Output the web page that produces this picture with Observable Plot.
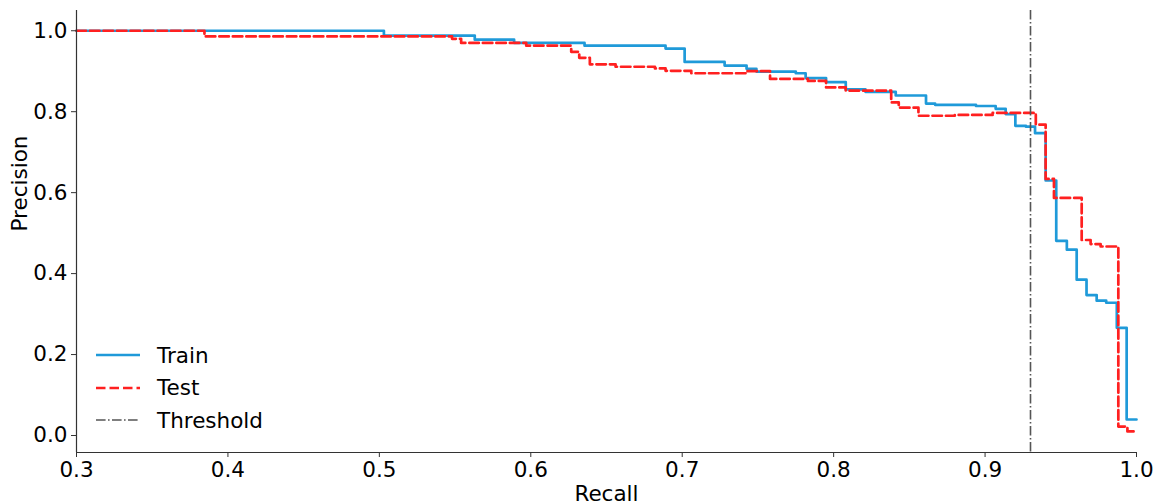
<!DOCTYPE html>
<html>
<head>
<meta charset="utf-8">
<script src="https://cdn.jsdelivr.net/npm/d3@7"></script>
<script src="https://cdn.jsdelivr.net/npm/@observablehq/plot@0.6"></script>
<style>
  html, body { margin: 0; padding: 0; background: #fff; }
  #wrap { position: relative; width: 1156px; height: 504px; font-family: "DejaVu Sans", sans-serif; }
  #legend { position: absolute; left: 96px; top: 339px; font-size: 21.5px; color: #000; }
  .row { display: flex; align-items: center; height: 32.5px; }
  .row svg { width: 46px; height: 10px; margin-right: 15px; }
</style>
</head>
<body>
<div id="wrap"><div id="chart"></div><div id="legend"></div></div>
<script>
// ---- data ----
const trainRecall = [0.3, 0.503, 0.563, 0.589, 0.6355, 0.689, 0.7016, 0.728, 0.7425, 0.749, 0.775, 0.7815, 0.795, 0.808, 0.821, 0.841, 0.861, 0.867, 0.894, 0.907, 0.9136, 0.920, 0.927, 0.933, 0.940, 0.947, 0.954, 0.9605, 0.967, 0.9737, 0.980, 0.987, 0.9935, 1.0];
const trainPrecision = [1.0, 0.988, 0.978, 0.970, 0.963, 0.956, 0.923, 0.914, 0.906, 0.899, 0.895, 0.883, 0.873, 0.855, 0.849, 0.840, 0.820, 0.817, 0.814, 0.807, 0.794, 0.765, 0.763, 0.747, 0.630, 0.481, 0.459, 0.385, 0.347, 0.333, 0.328, 0.266, 0.0395, 0.0395];

const testRecall = [0.3, 0.3845, 0.548, 0.554, 0.597, 0.6267, 0.632, 0.639, 0.656, 0.682, 0.689, 0.706, 0.742, 0.758, 0.783, 0.795, 0.808, 0.838, 0.843, 0.856, 0.880, 0.905, 0.9335, 0.940, 0.9455, 0.9638, 0.9697, 0.9763, 0.988, 0.994, 1.0];
const testPrecision = [1.0, 0.986, 0.980, 0.970, 0.963, 0.948, 0.933, 0.917, 0.911, 0.907, 0.901, 0.895, 0.900, 0.881, 0.876, 0.860, 0.852, 0.823, 0.810, 0.790, 0.792, 0.797, 0.768, 0.634, 0.587, 0.483, 0.473, 0.467, 0.022, 0.010, 0.010];

const threshold = [0.93];

const xTicks = [0.3, 0.4, 0.5, 0.6, 0.7, 0.8, 0.9, 1.0];
const yTicks = [0.0, 0.2, 0.4, 0.6, 0.8, 1.0];
const xDomain = [0.3, 1.0];
const yDomain = [-0.042, 1.05];

const seriesNames = ["Train", "Test", "Threshold"];
const colors = { Train: "#1f9ad9", Test: "#ff2020", Threshold: "#555555" };

// ---- build tables ----
const train = trainRecall.map((r, i) => ({ recall: r, precision: trainPrecision[i] }));
const test = testRecall.map((r, i) => ({ recall: r, precision: testPrecision[i] }));

const FS = 21.5;
const chart = Plot.plot({
  width: 1156,
  height: 504,
  marginLeft: 76,
  marginRight: 20,
  marginTop: 10,
  marginBottom: 52,
  style: { fontFamily: "DejaVu Sans, sans-serif", fontSize: FS + "px", color: "#000", background: "#fff" },
  x: { domain: xDomain },
  y: { domain: yDomain },
  marks: [
    Plot.line(train, { x: "recall", y: "precision", curve: "step-after", stroke: colors.Train, strokeWidth: 2.7 }),
    Plot.line(test, { x: "recall", y: "precision", curve: "step-after", stroke: colors.Test, strokeWidth: 2.7, strokeDasharray: "9.5,4" }),
    Plot.ruleX(threshold, { stroke: colors.Threshold, strokeWidth: 1.6, strokeDasharray: "9.6,2.4,1.6,2.4" }),
    Plot.ruleX([xDomain[0]], { stroke: "#333", strokeWidth: 1.2 }),
    Plot.ruleY([yDomain[0]], { stroke: "#333", strokeWidth: 1.2 }),
    Plot.axisX({ ticks: xTicks, tickFormat: d3.format(".1f"), tickSize: 5, tickPadding: 4, stroke: "#333", fill: "#000", fontSize: FS, label: null }),
    Plot.axisY({ ticks: yTicks, tickFormat: d3.format(".1f"), tickSize: 5, tickPadding: 4, stroke: "#333", fill: "#000", fontSize: FS, label: null }),
    Plot.text(["Recall"], { frameAnchor: "bottom", dy: 48, fontSize: FS, fill: "#000" }),
    Plot.text(["Precision"], { frameAnchor: "left", dx: -56, rotate: -90, fontSize: FS, fill: "#000" })
  ]
});
document.getElementById("chart").appendChild(chart);

// ---- legend (HTML overlay inside the axes area) ----
const dashes = { Train: null, Test: "9.5,4", Threshold: "9.6,2.4,1.6,2.4" };
const widths = { Train: 2.7, Test: 2.7, Threshold: 1.6 };
const legend = document.getElementById("legend");
for (const name of seriesNames) {
  const row = document.createElement("div");
  row.className = "row";
  const svgNS = "http://www.w3.org/2000/svg";
  const s = document.createElementNS(svgNS, "svg");
  const l = document.createElementNS(svgNS, "line");
  l.setAttribute("x1", 0); l.setAttribute("x2", 44); l.setAttribute("y1", 5); l.setAttribute("y2", 5);
  l.setAttribute("stroke", colors[name]);
  l.setAttribute("stroke-width", widths[name]);
  if (dashes[name]) l.setAttribute("stroke-dasharray", dashes[name]);
  s.appendChild(l);
  const t = document.createElement("span");
  t.textContent = name;
  row.appendChild(s); row.appendChild(t);
  legend.appendChild(row);
}
</script>
</body>
</html>
